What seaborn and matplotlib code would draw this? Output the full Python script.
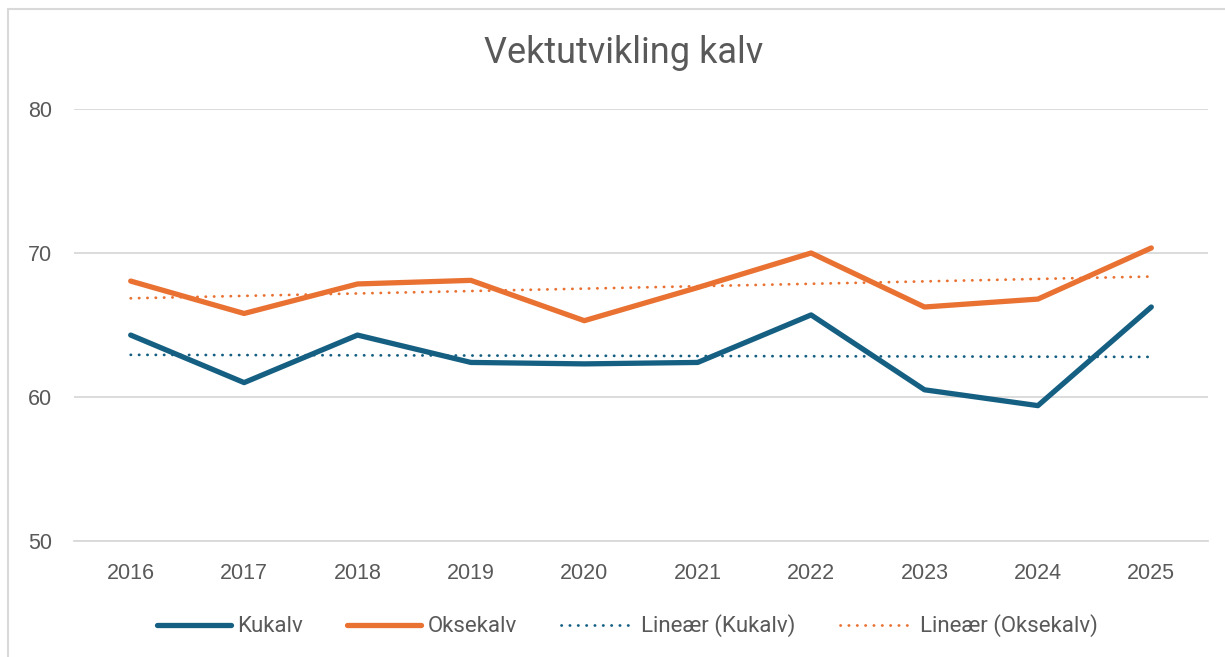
import numpy as np
import pandas as pd
import matplotlib
matplotlib.use("Agg")
import matplotlib.pyplot as plt
import seaborn as sns
from matplotlib.patches import Rectangle
from matplotlib.lines import Line2D

years = ["2016", "2017", "2018", "2019", "2020", "2021", "2022", "2023", "2024", "2025"]
kukalv = [64.3, 61.0, 64.3, 62.4, 62.3, 62.4, 65.7, 60.5, 59.4, 66.25]
oksekalv = [68.05, 65.8, 67.85, 68.1, 65.3, 67.6, 70.0, 66.25, 66.8, 70.35]
title = "Vektutvikling kalv"
labels = ["Kukalv", "Oksekalv", "Lineær (Kukalv)", "Lineær (Oksekalv)"]

BLUE = "#156082"
ORANGE = "#E97132"
GRAY_TXT = "#595959"
GRID = "#d9d9d9"

sns.set_theme(style="white")
plt.rcParams["font.family"] = ["Liberation Sans", "DejaVu Sans"]

W, H = 1225, 657
fig = plt.figure(figsize=(W / 100, H / 100), dpi=100)
ax = fig.add_axes([74 / W, 1 - 541 / H, (1208 - 74) / W, (541 - 109) / H])

x = np.arange(len(years))
df = pd.DataFrame({"x": x, "Kukalv": kukalv, "Oksekalv": oksekalv})

# trend lines (linear least squares fit)
tk = np.polyval(np.polyfit(x, kukalv, 1), x)
to = np.polyval(np.polyfit(x, oksekalv, 1), x)
dot = (0, (0.1, 2.9))
ax.plot(x, tk, color=BLUE, lw=2.0, linestyle=dot, dash_capstyle="round", zorder=3)
ax.plot(x, to, color=ORANGE, lw=2.0, linestyle=dot, dash_capstyle="round", zorder=3)

sns.lineplot(data=df, x="x", y="Kukalv", ax=ax, color=BLUE, lw=3.8, zorder=4)
sns.lineplot(data=df, x="x", y="Oksekalv", ax=ax, color=ORANGE, lw=3.8, zorder=4)
for ln in ax.lines[-2:]:
    ln.set_solid_capstyle("round")
    ln.set_solid_joinstyle("round")

ax.set_xlim(-0.5, 9.5)
ax.set_ylim(50, 80)
ax.set_yticks([50, 60, 70, 80])
ax.set_xticks(x)
ax.set_xticklabels(years)
ax.set_xlabel("")
ax.set_ylabel("")
ax.yaxis.grid(True, color=GRID, lw=1.3)
ax.xaxis.grid(False)
for s in ["top", "right", "left"]:
    ax.spines[s].set_visible(False)
ax.spines["bottom"].set_color(GRID)
ax.spines["bottom"].set_linewidth(1.3)
ax.tick_params(axis="both", length=0, labelsize=15.5, colors=GRAY_TXT)
ax.tick_params(axis="x", pad=16)
ax.tick_params(axis="y", pad=16)

fig.text(623.5 / W, 1 - 53 / H, title, ha="center", va="center", fontsize=26,
         color=GRAY_TXT, family=["Roboto", "DejaVu Sans"])

handles = [
    Line2D([], [], color=BLUE, lw=3.8, solid_capstyle="round"),
    Line2D([], [], color=ORANGE, lw=3.8, solid_capstyle="round"),
    Line2D([], [], color=BLUE, lw=2.0, linestyle=dot, dash_capstyle="round"),
    Line2D([], [], color=ORANGE, lw=2.0, linestyle=dot, dash_capstyle="round"),
]
leg = fig.legend(handles, labels, loc="center", bbox_to_anchor=(627.5 / W, 1 - 626 / H),
                 ncol=4, frameon=False, handlelength=3.3, handletextpad=0.3,
                 columnspacing=2.0,
                 prop={"family": ["Roboto", "DejaVu Sans"], "size": 16})
for t in leg.get_texts():
    t.set_color(GRAY_TXT)

fig.patches.append(Rectangle((8 / W, -0.1), 1.2, 1 - 9 / H + 0.1, transform=fig.transFigure,
                             fill=False, edgecolor=GRID, lw=1.5, zorder=0))

fig.savefig("out.png", dpi=100, facecolor="white")
